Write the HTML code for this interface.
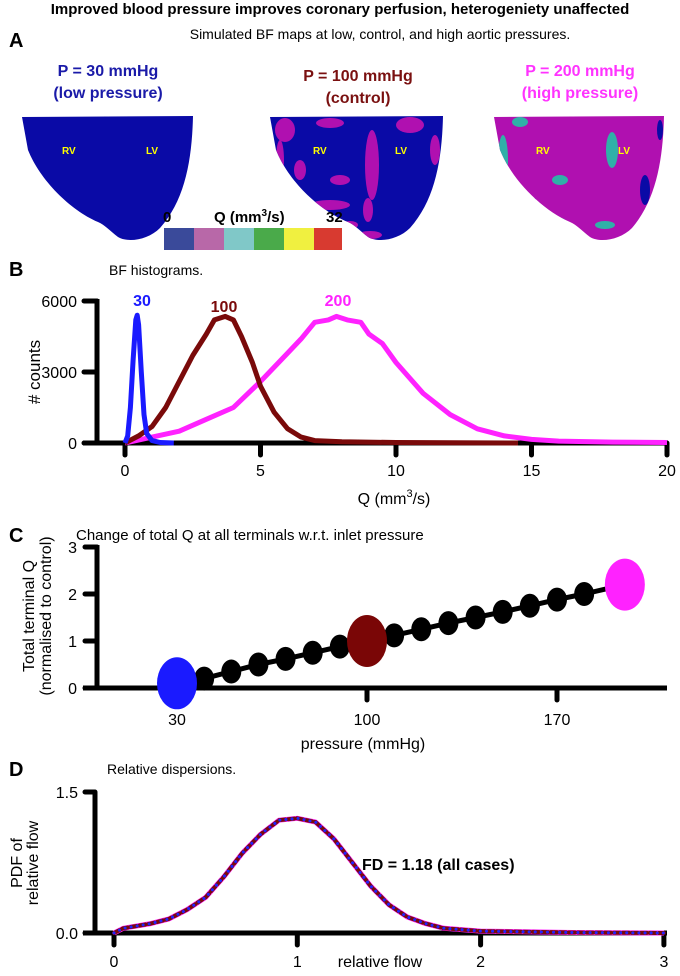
<!DOCTYPE html>
<html><head><meta charset="utf-8"><style>
body{margin:0;background:#fff;}
svg text{font-family:"Liberation Sans",Arial,sans-serif;}
</style></head><body>
<svg id="fig" width="680" height="971" viewBox="0 0 680 971" xmlns="http://www.w3.org/2000/svg">
<defs>
<clipPath id="h1"><path d="M22,117 L193,116 C192,160 185,200 160,228 C148,240 128,243 118,237 C110,231 105,225 98,222 C70,210 40,180 28,150 Z"/></clipPath>
<clipPath id="h2"><path d="M270,117 L443,116 C442,160 435,200 410,228 C398,240 378,243 368,237 C360,231 355,225 348,222 C318,210 288,180 276,150 Z"/></clipPath>
<clipPath id="h3"><path d="M494,117 L664,116 C663,160 656,200 632,228 C620,240 600,243 590,237 C582,231 577,225 570,222 C542,210 512,180 500,150 Z"/></clipPath>
</defs>
<text x="340" y="14" text-anchor="middle" font-size="15" font-weight="bold">Improved blood pressure improves coronary perfusion, heterogeniety unaffected</text>
<text x="380" y="39" text-anchor="middle" font-size="14">Simulated BF maps at low, control, and high aortic pressures.</text>
<text x="9" y="47" font-size="20" font-weight="bold">A</text>
<g font-weight="bold" font-size="16" text-anchor="middle">
<text x="108" y="76" fill="#1a1aa8">P = 30 mmHg</text>
<text x="108" y="98" fill="#1a1aa8">(low pressure)</text>
<text x="358" y="81" fill="#7a1010">P = 100 mmHg</text>
<text x="358" y="103" fill="#7a1010">(control)</text>
<text x="580" y="76" fill="#ff33ff">P = 200 mmHg</text>
<text x="580" y="98" fill="#ff33ff">(high pressure)</text>
</g>
<g clip-path="url(#h1)"><rect x="0" y="100" width="680" height="160" fill="#0a0aa6"/></g>
<g clip-path="url(#h2)"><rect x="260" y="100" width="200" height="160" fill="#0a0aa6"/>
<g fill="#b010b0"><ellipse cx="285" cy="130" rx="10" ry="12"/><ellipse cx="330" cy="123" rx="14" ry="5"/><ellipse cx="372" cy="165" rx="7" ry="35"/><ellipse cx="368" cy="210" rx="5" ry="12"/><ellipse cx="340" cy="180" rx="10" ry="5"/><ellipse cx="410" cy="125" rx="14" ry="8"/><ellipse cx="300" cy="170" rx="6" ry="10"/><ellipse cx="370" cy="235" rx="12" ry="4"/><ellipse cx="330" cy="205" rx="20" ry="5"/><ellipse cx="435" cy="150" rx="5" ry="15"/><ellipse cx="280" cy="160" rx="4" ry="20"/><ellipse cx="350" cy="225" rx="8" ry="4"/></g></g>
<g clip-path="url(#h3)"><rect x="490" y="100" width="180" height="160" fill="#b010b0"/>
<g fill="#30b0a8"><ellipse cx="612" cy="150" rx="6" ry="18"/><ellipse cx="560" cy="180" rx="8" ry="5"/><ellipse cx="503" cy="160" rx="5" ry="25"/><ellipse cx="540" cy="220" rx="25" ry="4"/><ellipse cx="605" cy="225" rx="10" ry="4"/><ellipse cx="520" cy="122" rx="8" ry="5"/></g>
<g fill="#0a0aa6"><ellipse cx="645" cy="190" rx="5" ry="15"/><ellipse cx="660" cy="130" rx="3" ry="10"/><ellipse cx="530" cy="200" rx="6" ry="3"/></g></g>
<g font-size="10" font-weight="bold" fill="#ffff00">
<text x="62" y="154">RV</text><text x="146" y="154">LV</text>
<text x="313" y="154">RV</text><text x="395" y="154">LV</text>
<text x="536" y="154">RV</text><text x="618" y="154">LV</text>
</g>
<g>
<rect x="164" y="228" width="30" height="22" fill="#3a4a9a"/><rect x="194" y="228" width="30" height="22" fill="#b868a8"/><rect x="224" y="228" width="30" height="22" fill="#80c8c8"/><rect x="254" y="228" width="30" height="22" fill="#4aaa4a"/><rect x="284" y="228" width="30" height="22" fill="#f0f040"/><rect x="314" y="228" width="28" height="22" fill="#d83a30"/>
</g>
<g font-size="15" font-weight="bold">
<text x="163" y="222">0</text>
<text x="214" y="222">Q (mm<tspan font-size="10" dy="-6">3</tspan><tspan dy="6">/s)</tspan></text>
<text x="326" y="222">32</text></g>

<text x="9" y="276" font-size="20" font-weight="bold">B</text>
<text x="109" y="275" font-size="14">BF histograms.</text>
<g id="chartB"></g>
<text x="9" y="542" font-size="20" font-weight="bold">C</text>
<text x="76" y="540" font-size="15">Change of total Q at all terminals w.r.t. inlet pressure</text>
<g id="chartC"></g>
<text x="9" y="776" font-size="20" font-weight="bold">D</text>
<text x="107" y="774" font-size="14">Relative dispersions.</text>
<g id="chartD"></g>
</svg>
<script>
// Panel B data
const bTicksX=[0,5,10,15,20];
const bTicksY=[0,3000,6000];
const blueQ=[0,0.1,0.2,0.3,0.4,0.45,0.5,0.6,0.7,0.8,1,1.3,1.8];
const blueN=[0,300,1500,3500,5200,5400,5000,3000,1200,400,100,20,0];
const maroonQ=[0,0.5,1,1.5,2,2.5,3,3.3,3.7,4,4.3,4.7,5,5.5,6,6.5,7,8,10,14.5];
const maroonN=[0,300,700,1500,2600,3700,4600,5200,5350,5200,4500,3400,2400,1300,600,250,100,50,20,0];
const magQ=[0,1,2,3,4,5,6,6.5,7,7.5,7.8,8.2,8.7,9,9.5,10,11,12,13,14,15,16,18,20];
const magN=[0,250,500,1000,1500,2600,3800,4400,5100,5200,5350,5200,5100,4600,4200,3400,2100,1200,600,300,150,80,40,20];
// Panel C data
const cTicksX=[30,100,170];
const cTicksY=[0,1,2,3];
const cP=[40,50,60,70,80,90,110,120,130,140,150,160,170,180];
const cQ=[0.2,0.35,0.5,0.62,0.75,0.88,1.12,1.25,1.38,1.5,1.62,1.75,1.88,2.0];
const cBigP=[30,100,195];
const cBigQ=[0.1,1.0,2.2];
// Panel D data
const dTicksX=[0,1,2,3];
const dTicksY=[0,1.5];
const dX=[0,0.05,0.2,0.3,0.4,0.5,0.6,0.7,0.8,0.9,1.0,1.1,1.2,1.3,1.4,1.5,1.6,1.7,1.8,2,2.5,3];
const dY=[0,0.05,0.1,0.15,0.25,0.38,0.6,0.85,1.05,1.2,1.22,1.18,1.0,0.75,0.5,0.3,0.17,0.1,0.05,0.02,0.005,0];

const NS="http://www.w3.org/2000/svg";
function mk(parent,tag,attrs,txt){const e=document.createElementNS(NS,tag);for(const k in attrs)e.setAttribute(k,attrs[k]);if(txt!==undefined)e.textContent=txt;parent.appendChild(e);return e;}
function line(g,xs,ys,fx,fy,col,w,name,dash){const d=xs.map((x,i)=>(i?'L':'M')+fx(x).toFixed(1)+','+fy(ys[i]).toFixed(1)).join(' ');
 const a={d:d,fill:'none',stroke:col,'stroke-width':w,'stroke-linejoin':'round'};if(dash){a['stroke-dasharray']=dash;a['stroke-linecap']='round';}
 const p=mk(g,'path',a);
 
 
 return p;}
let e;

// B
const gB=document.getElementById('chartB');
const bx=v=>125+v*27.1, by=v=>443-v*(142/6000);
e=mk(gB,'line',{x1:83,y1:443,x2:668,y2:443,stroke:'#000','stroke-width':5});


e=mk(gB,'line',{x1:97,y1:299,x2:97,y2:443,stroke:'#000','stroke-width':5});


bTicksY.forEach(t=>{mk(gB,'line',{x1:84,y1:by(t),x2:97,y2:by(t),stroke:'#000','stroke-width':5,'stroke-linecap':'round'});
 e=mk(gB,'text',{x:77,y:by(t)+6,'text-anchor':'end','font-size':16},String(t));
 
 });
bTicksX.forEach(t=>{mk(gB,'line',{x1:bx(t),y1:443,x2:bx(t),y2:455,stroke:'#000','stroke-width':5,'stroke-linecap':'round'});
 e=mk(gB,'text',{x:bx(t),y:476,'text-anchor':'middle','font-size':16},String(t));
 
 });
e=mk(gB,'text',{x:394,y:504,'text-anchor':'middle','font-size':16},'Q (mm');


mk(e,'tspan',{'font-size':11,dy:-7},'3');mk(e,'tspan',{dy:7},'/s)');
e=mk(gB,'text',{x:0,y:0,transform:'translate(40,372) rotate(-90)','text-anchor':'middle','font-size':17},'# counts');


line(gB,magQ,magN,bx,by,'#ff22ff',5,'series-200');
line(gB,maroonQ,maroonN,bx,by,'#7a0a0a',5,'series-100');
line(gB,blueQ,blueN,bx,by,'#1a1aff',5,'series-30');
e=mk(gB,'text',{x:142,y:306,'text-anchor':'middle','font-size':16,'font-weight':'bold',fill:'#1a1aff'},'30');


e=mk(gB,'text',{x:224,y:312,'text-anchor':'middle','font-size':16,'font-weight':'bold',fill:'#7a0a0a'},'100');


e=mk(gB,'text',{x:338,y:306,'text-anchor':'middle','font-size':16,'font-weight':'bold',fill:'#ff22ff'},'200');



// C
const gC=document.getElementById('chartC');
const cx=v=>177+(v-30)*(190/70), cy=v=>688-v*47;
e=mk(gC,'line',{x1:83,y1:688,x2:667,y2:688,stroke:'#000','stroke-width':5});


e=mk(gC,'line',{x1:97,y1:545,x2:97,y2:688,stroke:'#000','stroke-width':5});


cTicksY.forEach(t=>{mk(gC,'line',{x1:85,y1:cy(t),x2:97,y2:cy(t),stroke:'#000','stroke-width':5,'stroke-linecap':'round'});
 e=mk(gC,'text',{x:77,y:cy(t)+6,'text-anchor':'end','font-size':16},String(t));
 
 });
cTicksX.forEach(t=>{mk(gC,'line',{x1:cx(t),y1:688,x2:cx(t),y2:700,stroke:'#000','stroke-width':5,'stroke-linecap':'round'});
 e=mk(gC,'text',{x:cx(t),y:725,'text-anchor':'middle','font-size':16},String(t));
 
 });
e=mk(gC,'text',{x:363,y:749,'text-anchor':'middle','font-size':16},'pressure (mmHg)');


e=mk(gC,'text',{x:0,y:0,transform:'translate(34,616) rotate(-90)','text-anchor':'middle','font-size':16},'Total terminal Q');


e=mk(gC,'text',{x:0,y:0,transform:'translate(51,616) rotate(-90)','text-anchor':'middle','font-size':16},'(normalised to control)');


const allP=[cBigP[0]].concat(cP.slice(0,6),[cBigP[1]],cP.slice(6),[cBigP[2]]);
const allQ=[cBigQ[0]].concat(cQ.slice(0,6),[cBigQ[1]],cQ.slice(6),[cBigQ[2]]);
line(gC,allP,allQ,cx,cy,'#000',5,'c-trend-line');
cP.forEach((p,i)=>{e=mk(gC,'ellipse',{cx:cx(p),cy:cy(cQ[i]),rx:10,ry:12,fill:'#000'});
 
 });
const bigCol=['#1a1aff','#7a0606','#ff22ff'];
cBigP.forEach((p,i)=>{e=mk(gC,'ellipse',{cx:cx(p),cy:cy(cBigQ[i]),rx:20,ry:26,fill:bigCol[i]});
 
 });

// D
const gD=document.getElementById('chartD');
const y0=933;
const dx=v=>114+v*183.3, dyy=v=>y0-v*94;
e=mk(gD,'line',{x1:83,y1:y0,x2:667,y2:y0,stroke:'#000','stroke-width':5});


e=mk(gD,'line',{x1:95,y1:792,x2:95,y2:y0,stroke:'#000','stroke-width':5});


dTicksY.forEach(t=>{mk(gD,'line',{x1:85,y1:dyy(t),x2:95,y2:dyy(t),stroke:'#000','stroke-width':5,'stroke-linecap':'round'});
 e=mk(gD,'text',{x:78,y:dyy(t)+6,'text-anchor':'end','font-size':16},t.toFixed(1));
 
 });
dTicksX.forEach(t=>{mk(gD,'line',{x1:dx(t),y1:y0,x2:dx(t),y2:y0+12,stroke:'#000','stroke-width':5,'stroke-linecap':'round'});
 e=mk(gD,'text',{x:dx(t),y:967,'text-anchor':'middle','font-size':16},String(t));
 
 });
e=mk(gD,'text',{x:380,y:967,'text-anchor':'middle','font-size':16},'relative flow');


e=mk(gD,'text',{x:0,y:0,transform:'translate(22,863) rotate(-90)','text-anchor':'middle','font-size':16},'PDF of');


e=mk(gD,'text',{x:0,y:0,transform:'translate(38,863) rotate(-90)','text-anchor':'middle','font-size':16},'relative flow');


line(gD,dX,dY,dx,dyy,'#ff22ff',5,'d-series-200');
line(gD,dX,dY,dx,dyy,'#7a0a0a',4,'d-series-100','6 3');
line(gD,dX,dY,dx,dyy,'#2222ff',3,'d-series-30','0.1 6');
e=mk(gD,'text',{x:362,y:870,'font-size':16,'font-weight':'bold'},'FD = 1.18 (all cases)');


</script>
</body></html>
